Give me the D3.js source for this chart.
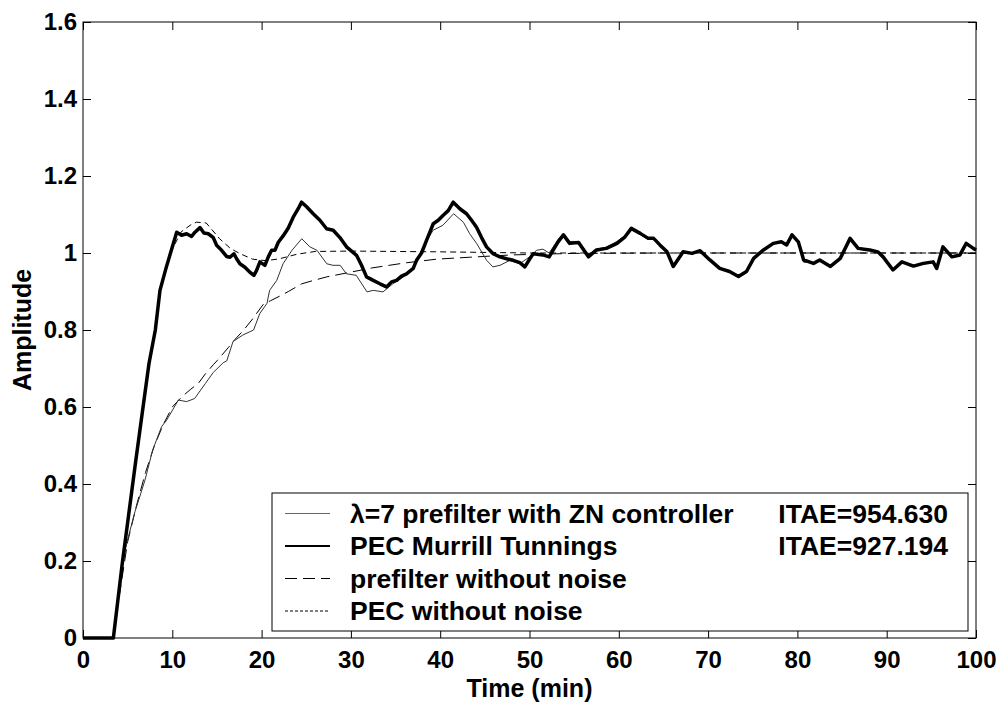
<!DOCTYPE html>
<html>
<head>
<meta charset="utf-8">
<script src="https://cdn.jsdelivr.net/npm/d3@7"></script>
<style>
  body { margin: 0; background: #fff; }
  svg text { font-family: "Liberation Sans", Arial, sans-serif; font-weight: bold; fill: #000; }
</style>
</head>
<body>
<svg id="chart" width="1004" height="705"></svg>
<script>
// tick labels
const xTicks = [0, 10, 20, 30, 40, 50, 60, 70, 80, 90, 100];
const yTicks = [0, 0.2, 0.4, 0.6, 0.8, 1, 1.2, 1.4, 1.6];

// PEC Murrill Tunnings (thick, noisy)
const pecTime = [0, 3.4, 4.4, 5.82, 6.68, 7.39, 8.1, 8.62, 9.29, 10.49, 11.04, 11.6, 12.16, 12.54, 13.1, 13.54, 14.03,
  14.59, 14.96, 15.52, 16.08, 16.46, 16.9, 17.2, 17.57, 18.13, 18.69, 19.14, 19.44, 19.81, 20.37, 20.75, 21.12,
  21.49, 21.87, 22.43, 22.99, 23.54, 24.1, 24.48, 25.04, 25.78, 26.53, 27.28, 28.02, 28.77, 29.51, 30.07, 30.63,
  31.19, 31.75, 32.5, 33.25, 33.99, 34.55, 35.11, 35.67, 36.23, 36.98, 37.35, 37.91, 38.47, 39.22, 39.78, 40.34,
  40.9, 41.46, 42.2, 42.95, 43.51, 44.07, 44.63, 45.19, 45.93, 46.68, 47.43, 48.17, 48.92, 49.48, 50.04, 50.41,
  51.5, 52.2, 53.2, 53.8, 54.5, 55.5, 56.6, 57.5, 58.6, 59.8, 60.7, 61.4, 62.4, 63.3, 63.9, 64.6, 65.4, 66.1,
  67.2, 68.2, 69.1, 70.2, 71.3, 72.4, 73.4, 74.3, 75.1, 76.2, 77.3, 78.2, 78.8, 79.4, 80.1, 80.7, 81.8, 82.5,
  83.7, 84.8, 85.9, 86.8, 88.1, 89.0, 89.6, 90.7, 91.7, 93.0, 94.1, 95.2, 95.6, 96.3, 97.3, 98.2, 98.9, 99.7, 100];
const pecValue = [0, 0, 0.194, 0.445, 0.592, 0.713, 0.8, 0.903, 0.96, 1.054, 1.046, 1.05, 1.043, 1.054, 1.066, 1.052, 1.05,
  1.04, 1.02, 1.007, 0.991, 0.989, 0.998, 0.985, 0.972, 0.963, 0.95, 0.942, 0.955, 0.977, 0.968, 0.99, 1.007,
  1.007, 1.028, 1.045, 1.065, 1.093, 1.115, 1.132, 1.12, 1.102, 1.085, 1.063, 1.059, 1.04, 1.016, 1.005, 0.994,
  0.968, 0.938, 0.929, 0.92, 0.912, 0.925, 0.929, 0.94, 0.946, 0.96, 0.981, 1.0, 1.033, 1.076, 1.085, 1.098,
  1.11, 1.132, 1.115, 1.102, 1.085, 1.067, 1.04, 1.016, 0.998, 0.99, 0.985, 0.981, 0.975, 0.964, 0.985, 0.998,
  0.995, 0.99, 1.029, 1.047, 1.025, 1.027, 0.99, 1.008, 1.012, 1.025, 1.042, 1.064, 1.051, 1.038, 1.038, 1.021, 1.003, 0.965,
  1.003, 0.999, 1.006, 0.982, 0.96, 0.952, 0.939, 0.952, 0.986, 1.008, 1.025, 1.029, 1.021, 1.047, 1.029, 0.982, 0.973, 0.982,
  0.965, 0.986, 1.038, 1.012, 1.008, 1.003, 0.99, 0.956, 0.977, 0.966, 0.973, 0.977, 0.96, 1.016, 0.99, 0.995, 1.025, 1.012, 1.008];

// lambda=7 prefilter with ZN controller (thin, noisy)
const zeTime = [0, 3.4, 4.4, 4.89, 5.82, 6.94, 7.8, 8.8, 9.37, 10.68, 11.6, 12.5, 13.7, 14.6, 15.7, 16.1, 16.8, 17.9,
  19.1, 19.8, 20.6, 20.9, 21.7, 22.4, 23.4, 24.5, 25.4, 26.2, 27.3, 28.0, 28.8, 29.5, 30.6, 31.8, 32.5, 33.6, 34.7,
  35.9, 37.0, 38.1, 39.2, 40.3, 41.5, 42.6, 43.3, 44.1, 45.2, 45.9, 46.7, 47.8, 48.9, 50.0, 50.8, 51.5, 52.2, 53.2,
  53.8, 54.5, 55.5, 56.6, 57.5, 58.6, 59.8, 60.7, 61.4, 62.4, 63.3, 63.9, 64.6, 65.4, 66.1,
  67.2, 68.2, 69.1, 70.2, 71.3, 72.4, 73.4, 74.3, 75.1, 76.2, 77.3, 78.2, 78.8, 79.4, 80.1, 80.7, 81.8, 82.5,
  83.7, 84.8, 85.9, 86.8, 88.1, 89.0, 89.6, 90.7, 91.7, 93.0, 94.1, 95.2, 95.6, 96.3, 97.3, 98.2, 98.9, 99.7, 100];
const zeValue = [0, 0, 0.19, 0.246, 0.328, 0.41, 0.488, 0.549, 0.566, 0.618, 0.614, 0.622, 0.661, 0.69, 0.715, 0.72, 0.77, 0.787,
  0.8, 0.843, 0.869, 0.903, 0.929, 0.972, 1.007, 1.037, 1.016, 1.007, 0.972, 0.968, 0.968, 0.946, 0.942, 0.899, 0.903, 0.899, 0.92,
  0.938, 0.964, 1.016, 1.059, 1.072, 1.102, 1.08, 1.05, 1.024, 0.981, 0.964, 0.968, 0.981, 0.972, 0.99, 1.007, 1.01, 1.0, 1.035,
  1.05, 1.03, 1.03, 0.995, 1.01, 1.015, 1.03, 1.045, 1.06, 1.048, 1.035, 1.036, 1.02, 1.0, 0.97,
  1.0, 1.0, 1.004, 0.984, 0.962, 0.954, 0.941, 0.954, 0.984, 1.006, 1.023, 1.027, 1.019, 1.044, 1.027, 0.976, 0.975, 0.98,
  0.967, 0.984, 1.035, 1.01, 1.006, 1.001, 0.988, 0.958, 0.975, 0.968, 0.971, 0.975, 0.962, 1.013, 0.992, 0.993, 1.022, 1.01, 1.006];

// prefilter without noise
const pfTime = [0, 3.4, 4, 5, 6, 7, 8, 9, 10, 11, 12, 12.9, 13.7, 14.6, 15, 16.3, 17, 18, 18.9, 20.2, 21, 22.2, 23,
  24.5, 26, 27.3, 29.5, 32.3, 36, 39.6, 43.3, 48, 55, 65, 100];
const pfValue = [0, 0, 0.1, 0.25, 0.345, 0.43, 0.5, 0.555, 0.6, 0.625, 0.645, 0.661, 0.686, 0.71, 0.72, 0.755, 0.775, 0.8,
  0.826, 0.867, 0.876, 0.89, 0.9, 0.92, 0.93, 0.938, 0.948, 0.961, 0.974, 0.984, 0.989, 0.995, 0.999, 1.0, 1.0];

// PEC without noise
const pnTime = [0, 3.4, 4.4, 5.8, 6.7, 7.4, 8.1, 8.6, 9.3, 10, 11, 12, 12.7, 13.8, 15.3, 16.5, 17.6, 19, 20.5, 22,
  24, 26, 30, 40, 50, 100];
const pnValue = [0, 0, 0.19, 0.445, 0.59, 0.713, 0.8, 0.9, 0.96, 1.01, 1.055, 1.072, 1.08, 1.078, 1.037, 1.012, 0.998,
  0.984, 0.98, 0.985, 0.997, 1.004, 1.005, 1.003, 1.0, 1.0];

const legendNames = ["\u03bb=7 prefilter with ZN controller", "PEC Murrill Tunnings", "prefilter without noise", "PEC without noise"];
const legendItae = ["ITAE=954.630", "ITAE=927.194", "", ""];

const svg = d3.select('#chart');
const plotLeft = 83, plotRight = 976, plotTop = 22, plotBottom = 638;

const x = d3.scaleLinear().domain([0, 100]).range([plotLeft, plotRight]);
const y = d3.scaleLinear().domain([0, 1.6]).range([plotBottom, plotTop]);

const pairs = (ts, vs) => ts.map((t, i) => [t, vs[i]]);
const line = d3.line().x(d => x(d[0])).y(d => y(d[1]));

const styles = [
  { data: pairs(zeTime, zeValue), color: '#333', width: 1, dash: null, legendColor: '#666', legendWidth: 1.2 },
  { data: pairs(pecTime, pecValue), color: '#000', width: 3.5, dash: null, legendColor: '#000', legendWidth: 2 },
  { data: pairs(pfTime, pfValue), color: '#000', width: 1, dash: '12,6', legendColor: '#000', legendWidth: 1 },
  { data: pairs(pnTime, pnValue), color: '#000', width: 1, dash: '6,4', legendColor: '#000', legendWidth: 1, legendDash: '3,2' }
];

// draw the no-noise curves first, noisy ones on top
[2, 3, 0, 1].forEach(i => {
  const s = styles[i];
  svg.append('path')
    .datum(s.data)
    .attr('d', line)
    .attr('fill', 'none')
    .attr('stroke', s.color)
    .attr('stroke-width', s.width)
    .attr('stroke-linejoin', 'round')
    .attr('stroke-dasharray', s.dash);
});

// axes with inward ticks on all four sides
svg.append('g')
  .attr('transform', `translate(0,${plotBottom})`)
  .call(d3.axisBottom(x).tickValues(xTicks).tickSizeInner(-8).tickSizeOuter(0).tickPadding(13).tickFormat(d => d))
  .call(g => g.select('.domain').remove())
  .call(g => g.selectAll('text').attr('font-size', 24).attr('font-family', null));

svg.append('g')
  .attr('transform', `translate(0,${plotTop})`)
  .call(d3.axisTop(x).tickValues(xTicks).tickSizeInner(-8).tickSizeOuter(0).tickFormat(''))
  .call(g => g.select('.domain').remove());

svg.append('g')
  .attr('transform', `translate(${plotLeft},0)`)
  .call(d3.axisLeft(y).tickValues(yTicks).tickSizeInner(-8).tickSizeOuter(0).tickPadding(6).tickFormat(d => d))
  .call(g => g.select('.domain').remove())
  .call(g => g.selectAll('text').attr('font-size', 24).attr('font-family', null));

svg.append('g')
  .attr('transform', `translate(${plotRight},0)`)
  .call(d3.axisRight(y).tickValues(yTicks).tickSizeInner(-8).tickSizeOuter(0).tickFormat(''))
  .call(g => g.select('.domain').remove());

svg.append('rect')
  .attr('x', plotLeft).attr('y', plotTop)
  .attr('width', plotRight - plotLeft).attr('height', plotBottom - plotTop)
  .attr('fill', 'none').attr('stroke', '#000').attr('stroke-width', 1);

// axis titles
svg.append('text')
  .attr('x', (plotLeft + plotRight) / 2).attr('y', 697)
  .attr('text-anchor', 'middle').attr('font-size', 25)
  .text('Time (min)');

svg.append('text')
  .attr('transform', `translate(31,${(plotTop + plotBottom) / 2}) rotate(-90)`)
  .attr('text-anchor', 'middle').attr('font-size', 25)
  .text('Amplitude');

// legend
const legend = svg.append('g');
legend.append('rect')
  .attr('x', 272).attr('y', 493).attr('width', 696).attr('height', 138)
  .attr('fill', '#fff').attr('stroke', '#000').attr('stroke-width', 1);

legendNames.forEach((name, i) => {
  const s = styles[i];
  const base = 522.5 + i * 32.5;
  legend.append('line')
    .attr('x1', 285).attr('x2', 330)
    .attr('y1', base - 9).attr('y2', base - 9)
    .attr('stroke', s.legendColor)
    .attr('stroke-width', s.legendWidth)
    .attr('stroke-dasharray', s.legendDash || s.dash);
  legend.append('text')
    .attr('x', 350).attr('y', base)
    .attr('font-size', 26.5)
    .text(name);
  if (legendItae[i]) {
    legend.append('text')
      .attr('x', 948).attr('y', base)
      .attr('text-anchor', 'end')
      .attr('font-size', 26.5)
      .text(legendItae[i]);
  }
});
</script>
</body>
</html>
